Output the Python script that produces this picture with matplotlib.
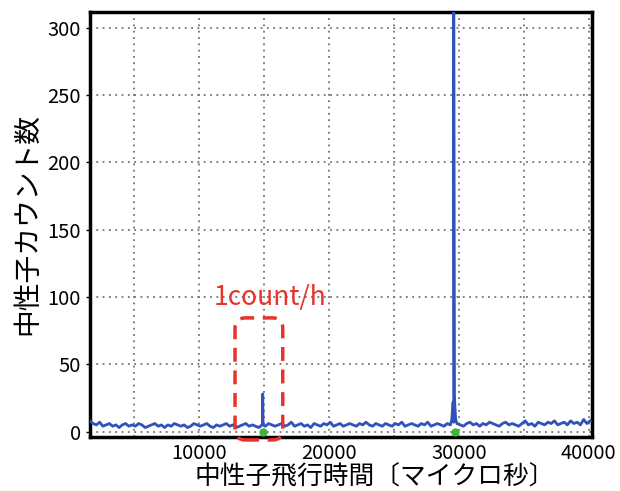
import numpy as np
import matplotlib
matplotlib.use("Agg")
from matplotlib import pyplot as plt
from matplotlib.patches import FancyBboxPatch

plt.rcParams['font.family'] = ['Noto Sans CJK JP', 'DejaVu Sans']

# baseline counts, 250 us bins starting at 1600 us
bin_start = 1600
bin_width = 250
base_counts = [8, 6, 5, 7, 4, 5, 6, 4, 5, 3, 5, 6, 4, 5, 4, 6, 5, 3, 4, 5,
               6, 4, 5, 3, 5, 4, 6, 5, 4, 5, 3, 4, 6, 5, 4, 5, 6, 4, 3, 5,
               4, 5, 6, 4, 5, 3, 4, 5, 6, 4, 5, 4, 3, 5, 4, 6, 5, 4, 5, 6,
               4, 5, 7, 4, 5, 6, 4, 5, 3, 6, 5, 4, 6, 5, 7, 4, 5, 6, 4, 5,
               6, 5, 4, 6, 5, 7, 5, 4, 6, 5, 4, 6, 5, 4, 6, 5, 7, 4, 5, 6,
               5, 4, 6, 5, 7, 4, 5, 6, 5, 4, 6, 5, 7, 6, 5, 4, 6, 7, 5, 6,
               4, 6, 5, 7, 6, 5, 4, 6, 7, 5, 6, 5, 4, 6, 8, 5, 6, 4, 7, 6,
               5, 7, 6, 8, 5, 6, 7, 5, 8, 6, 7, 5, 9, 6, 8]

# peaks
peak_t = [14870, 14900, 14930, 29450, 29550, 29600, 29650, 29750]
peak_c = [5, 28, 5, 9, 22, 330, 26, 9]

# green markers
mark_t = [14900, 29700]
mark_c = [0, 0]

base_t = bin_start + bin_width * np.arange(len(base_counts))
t = np.concatenate([base_t, peak_t])
c = np.concatenate([base_counts, peak_c])
order = np.argsort(t)
t = t[order]
c = c[order]

fig = plt.figure(figsize=(6.2, 4.91), dpi=100)
ax = fig.add_axes([0.145, 0.11, 0.81, 0.866])

ax.plot(t, c, color='#3052bb', lw=2.0, zorder=3)
ax.plot(mark_t, mark_c, 'o', color='#3fb43f', ms=5, zorder=4)

ax.set_xlim(1600, 40250)
ax.set_ylim(-4, 312)
ax.set_xticks([10000, 20000, 30000, 40000])
ax.set_xticks([5000, 15000, 25000, 35000], minor=True)
ax.set_yticks([0, 50, 100, 150, 200, 250, 300])
ax.grid(True, which='both', ls=(0, (1, 2.5)), color='#7a7070', lw=1.3)
ax.tick_params(axis='both', which='both', labelsize=14.5, length=3, width=1)
ax.tick_params(axis='x', which='both', length=0, pad=4)
for s in ax.spines.values():
    s.set_linewidth(2.5)

ax.set_xlabel('中性子飛行時間〔マイクロ秒〕', fontsize=18.5, labelpad=0, x=0.568)
ax.set_ylabel('中性子カウント数', fontsize=20, labelpad=4)

box = FancyBboxPatch((0.289, -0.007), 0.095, 0.287,
                     boxstyle='round,pad=0,rounding_size=0.02',
                     mutation_aspect=502 / 425,
                     transform=ax.transAxes, clip_on=False,
                     fill=False, ec='#e8322a', lw=2.5, ls=(0, (4, 2.5)), zorder=5)
ax.add_patch(box)
ax.text(0.359, 0.329, '1count/h', transform=ax.transAxes, color='#e8322a',
        fontsize=19, ha='center', va='center')

fig.savefig('out.png', dpi=100)
